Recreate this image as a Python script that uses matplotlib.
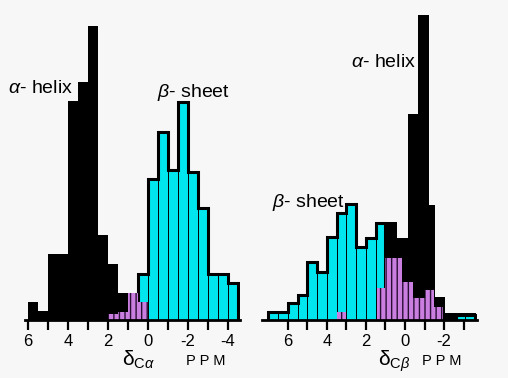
import matplotlib.pyplot as plt
import numpy as np

plt.rcParams['font.family'] = ['Liberation Sans', 'DejaVu Sans']
plt.rcParams['mathtext.fontset'] = 'custom'
plt.rcParams['mathtext.rm'] = 'Liberation Sans'
plt.rcParams['mathtext.it'] = 'Liberation Sans:italic'
plt.rcParams['hatch.linewidth'] = 1.0

# histograms as bin edges (ppm, high -> low) and relative counts
ca_helix_edges = [6, 5.5, 5, 4.5, 4, 3.5, 3, 2.5, 2, 1.5, 1, 0.5]
ca_helix_n = [18, 9, 66, 66, 219, 238, 294, 85, 56, 27, 27]
ca_sheet_edges = [0.5, 0, -0.5, -1, -1.5, -2, -2.5, -3, -3.5, -4, -4.5]
ca_sheet_n = [46, 141, 188, 150, 218, 148, 112, 46, 46, 37]
ca_coil_edges = [2, 1.5, 1, 0.5, 0]
ca_coil_n = [6, 8, 27, 18]

cb_sheet_edges = [7, 6.5, 6, 5.5, 5, 4.5, 4, 3.5, 3, 2.5, 2, 1.5, 1]
cb_sheet_n = [8, 8, 17, 25, 58, 48, 83, 107, 116, 73, 82, 97]
cb_sheet2_edges = [-2.6, -3.1, -3.6]
cb_sheet2_n = [5, 5]
cb_helix_edges = [1, 0.4, -0.15, -0.65, -1.25, -1.55, -2.05, -3.65]
cb_helix_n = [98, 82, 206, 305, 115, 23, 7]
cb_coil_edges = [1.45, 1, 0.15, -0.4, -1, -1.5, -1.95]
cb_coil_n = [32, 62, 38, 22, 30, 13]
cb_coil2_edges = [3.5, 3]
cb_coil2_n = [8]

ca_ticks = [6, 5, 4, 3, 2, 1, 0, -1, -2, -3, -4]
ca_ticklabels = ['6', '', '4', '', '2', '', '0', '', '-2', '', '-4']
cb_ticks = [6, 5, 4, 3, 2, 1, 0, -1, -2, -3]
cb_ticklabels = ['6', '', '4', '', '2', '', '0', '', '-2', '']

CYAN = '#00e6ee'
PURPLE = '#c97ee0'
BG = '#f7f7f7'


def helix(ax, edges, n):
    ax.stairs(n[::-1], edges[::-1], baseline=0, fill=True, color='black', zorder=2)


def sheet(ax, edges, n):
    e, v = np.array(edges[::-1], float), np.array(n[::-1], float)
    ax.stairs(v, e, baseline=0, fill=True, color=CYAN, zorder=3)
    # thin dividers between bins
    ax.vlines(e[1:-1], 0, np.minimum(v[:-1], v[1:]), color='black', lw=0.7, zorder=3)
    ax.stairs(v, e, baseline=0, color='black', lw=2.2, zorder=4)


def coil(ax, edges, n):
    ax.stairs(n[::-1], edges[::-1], baseline=0, fill=True, facecolor=PURPLE,
              edgecolor='#2a0f35', lw=0, hatch='|||', zorder=5)


def style(ax, lim, ticks, labels):
    ax.set_facecolor(BG)
    ax.set_xlim(*lim)
    ax.set_ylim(0, 310)
    for s in ['top', 'left', 'right']:
        ax.spines[s].set_visible(False)
    ax.spines['bottom'].set_linewidth(2)
    ax.spines['bottom'].set_zorder(6)
    ax.set_yticks([])
    ax.set_xticks(ticks)
    ax.set_xticklabels(labels)
    ax.tick_params(axis='x', direction='out', length=7, width=1.6, labelsize=12, pad=3)


fig = plt.figure(figsize=(5.08, 3.78), dpi=100, facecolor=BG)

ax1 = fig.add_axes([25 / 508, 58 / 378, 215 / 508, 310 / 378])
helix(ax1, ca_helix_edges, ca_helix_n)
sheet(ax1, ca_sheet_edges, ca_sheet_n)
coil(ax1, ca_coil_edges, ca_coil_n)
style(ax1, (6.15, -4.6), ca_ticks, ca_ticklabels)

ax2 = fig.add_axes([262 / 508, 58 / 378, 215 / 508, 310 / 378])
helix(ax2, cb_helix_edges, cb_helix_n)
sheet(ax2, cb_sheet_edges, cb_sheet_n)
sheet(ax2, cb_sheet2_edges, cb_sheet2_n)
coil(ax2, cb_coil_edges, cb_coil_n)
coil(ax2, cb_coil2_edges, cb_coil2_n)
style(ax2, (7.33, -3.69), cb_ticks, cb_ticklabels)


def px(x, y):
    return x / 508, 1 - y / 378


fig.text(*px(8, 93), r'$\alpha$- helix', fontsize=14, va='baseline')
fig.text(*px(157, 97), r'$\beta$- sheet', fontsize=14, va='baseline')
fig.text(*px(351, 67), r'$\alpha$- helix', fontsize=14, va='baseline')
fig.text(*px(272, 207), r'$\beta$- sheet', fontsize=14, va='baseline')

fig.text(*px(122, 366), r'$\mathrm{\delta}_{\mathrm{C}\alpha}$', fontsize=15, va='baseline')
fig.text(*px(186, 365), 'P P M', fontsize=10.5, va='baseline')
fig.text(*px(378, 366), r'$\mathrm{\delta}_{\mathrm{C}\beta}$', fontsize=15, va='baseline')
fig.text(*px(422, 365), 'P P M', fontsize=10.5, va='baseline')

fig.savefig('out.png', dpi=100, facecolor=BG)
